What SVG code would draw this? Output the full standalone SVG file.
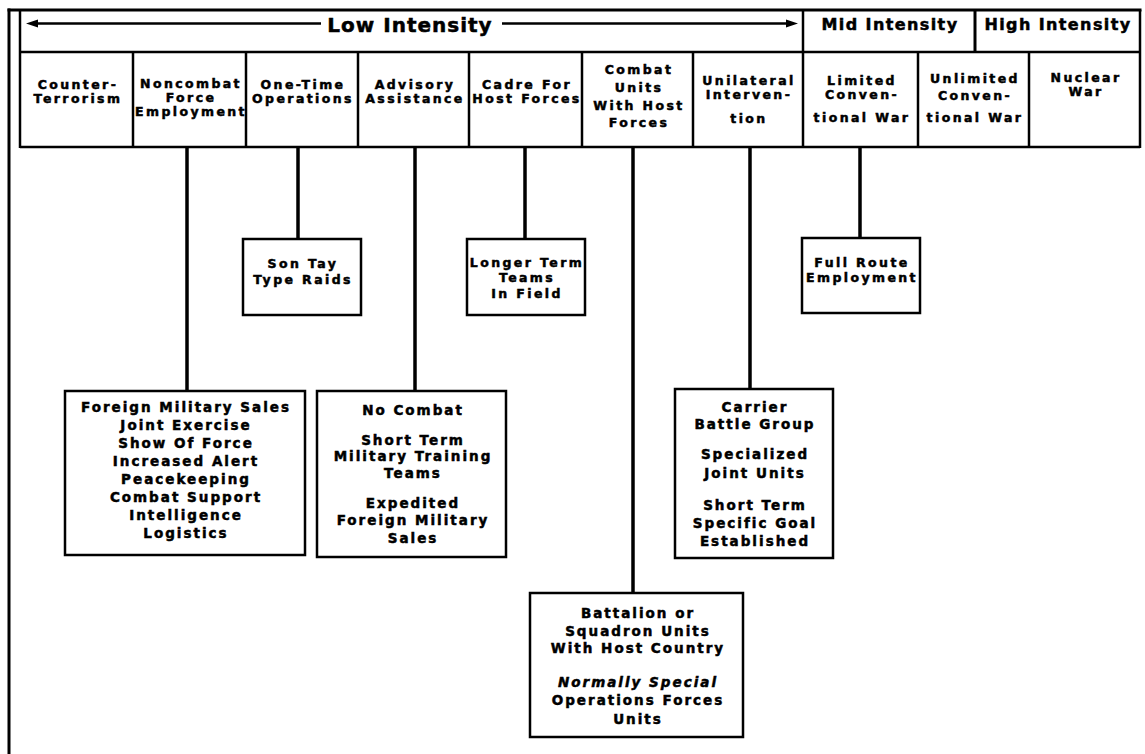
<svg xmlns="http://www.w3.org/2000/svg" width="1145" height="754" viewBox="0 0 1145 754">
<style>
.t{font-family:"DejaVu Sans","Liberation Sans",sans-serif;font-weight:bold;font-size:13.5px;letter-spacing:2px;text-anchor:middle;fill:#000;stroke:#000;stroke-width:0.5}
.c{font-size:12.5px;letter-spacing:2.4px}
.h{font-size:16px;letter-spacing:1.4px}
.big{font-size:20px;letter-spacing:1px}
.it{font-style:italic}
.ln{stroke:#000;stroke-width:2.5;fill:none}
.fr{stroke:#000;stroke-width:3;fill:none}
.box{fill:#fff;stroke:#000;stroke-width:2.5}
.conn{stroke:#000;stroke-width:3.5}
</style>
<rect width="1145" height="754" fill="#fff"/>
<g id="frame">
<line class="fr" x1="9" y1="8.5" x2="9" y2="754"/>
<line class="fr" x1="7.5" y1="10" x2="1141.5" y2="10"/>
<line class="ln" x1="20" y1="10" x2="20" y2="148"/>
<line class="ln" x1="1140" y1="10" x2="1140" y2="148"/>
<line class="ln" x1="20" y1="52" x2="1140" y2="52"/>
<line class="ln" x1="20" y1="147" x2="1140" y2="147"/>
<line class="ln" x1="803" y1="10" x2="803" y2="147"/>
<line class="fr" x1="975" y1="10" x2="975" y2="52"/>
<line class="ln" x1="133" y1="52" x2="133" y2="147"/>
<line class="ln" x1="246" y1="52" x2="246" y2="147"/>
<line class="ln" x1="358" y1="52" x2="358" y2="147"/>
<line class="ln" x1="469" y1="52" x2="469" y2="147"/>
<line class="ln" x1="582" y1="52" x2="582" y2="147"/>
<line class="ln" x1="693" y1="52" x2="693" y2="147"/>
<line class="ln" x1="918" y1="52" x2="918" y2="147"/>
<line class="ln" x1="1029" y1="52" x2="1029" y2="147"/>
</g>
<g id="header">
<line class="ln" x1="34" y1="23.5" x2="321" y2="23.5"/>
<polygon points="26,23.5 38,19.5 38,27.5" fill="#000"/>
<text class="t big" x="410" y="32">Low Intensity</text>
<line class="ln" x1="502" y1="23.5" x2="790" y2="23.5"/>
<polygon points="798,23.5 786,19.5 786,27.5" fill="#000"/>
<text class="t h" x="890" y="30">Mid Intensity</text>
<text class="t h" x="1058" y="30">High Intensity</text>
</g>
<g id="cells">
<text class="t c" x="78" y="89">Counter-</text>
<text class="t c" x="78" y="103">Terrorism</text>
<text class="t c" x="191" y="88">Noncombat</text>
<text class="t c" x="191" y="102">Force</text>
<text class="t c" x="191" y="116">Employment</text>
<text class="t c" x="303" y="89">One-Time</text>
<text class="t c" x="303" y="103">Operations</text>
<text class="t c" x="415" y="89">Advisory</text>
<text class="t c" x="415" y="103">Assistance</text>
<text class="t c" x="527" y="89">Cadre For</text>
<text class="t c" x="527" y="103">Host Forces</text>
<text class="t c" x="639" y="74">Combat</text>
<text class="t c" x="639" y="92">Units</text>
<text class="t c" x="639" y="110">With Host</text>
<text class="t c" x="639" y="127">Forces</text>
<text class="t c" x="749" y="85">Unilateral</text>
<text class="t c" x="749" y="99">Interven-</text>
<text class="t c" x="749" y="123">tion</text>
<text class="t c" x="862" y="85">Limited</text>
<text class="t c" x="862" y="99">Conven-</text>
<text class="t c" x="862" y="122">tional War</text>
<text class="t c" x="975" y="83">Unlimited</text>
<text class="t c" x="975" y="100">Conven-</text>
<text class="t c" x="975" y="122">tional War</text>
<text class="t c" x="1086" y="82">Nuclear</text>
<text class="t c" x="1086" y="96">War</text>
</g>
<g id="connectors">
<line class="conn" x1="187" y1="147" x2="187" y2="391"/>
<line class="conn" x1="298" y1="147" x2="298" y2="239"/>
<line class="conn" x1="415" y1="147" x2="415" y2="391"/>
<line class="conn" x1="525" y1="147" x2="525" y2="239"/>
<line class="conn" x1="633" y1="147" x2="633" y2="593"/>
<line class="conn" x1="750" y1="147" x2="750" y2="389"/>
<line class="conn" x1="860" y1="147" x2="860" y2="238"/>
</g>
<g id="sontay">
<rect class="box" x="243" y="239" width="118" height="76"/>
<text class="t c" x="303" y="268">Son Tay</text>
<text class="t c" x="303" y="284">Type Raids</text>
</g>
<g id="longerterm">
<rect class="box" x="467" y="239" width="118" height="76"/>
<text class="t c" x="527" y="267">Longer Term</text>
<text class="t c" x="527" y="282">Teams</text>
<text class="t c" x="527" y="298">In Field</text>
</g>
<g id="fullroute">
<rect class="box" x="802" y="238" width="118" height="75"/>
<text class="t c" x="862" y="267">Full Route</text>
<text class="t c" x="862" y="282">Employment</text>
</g>
<g id="fms">
<rect class="box" x="65" y="391" width="240" height="164"/>
<text class="t" x="186" y="412">Foreign Military Sales</text>
<text class="t" x="186" y="430">Joint Exercise</text>
<text class="t" x="186" y="448">Show Of Force</text>
<text class="t" x="186" y="466">Increased Alert</text>
<text class="t" x="186" y="484">Peacekeeping</text>
<text class="t" x="186" y="502">Combat Support</text>
<text class="t" x="186" y="520">Intelligence</text>
<text class="t" x="186" y="538">Logistics</text>
</g>
<g id="nocombat">
<rect class="box" x="317" y="391" width="189" height="166"/>
<text class="t" x="413" y="415">No Combat</text>
<text class="t" x="413" y="445">Short Term</text>
<text class="t" x="413" y="461">Military Training</text>
<text class="t" x="413" y="478">Teams</text>
<text class="t" x="413" y="508">Expedited</text>
<text class="t" x="413" y="525">Foreign Military</text>
<text class="t" x="413" y="543">Sales</text>
</g>
<g id="carrier">
<rect class="box" x="675" y="389" width="158" height="169"/>
<text class="t" x="755" y="412">Carrier</text>
<text class="t" x="755" y="429">Battle Group</text>
<text class="t" x="755" y="459">Specialized</text>
<text class="t" x="755" y="478">Joint Units</text>
<text class="t" x="755" y="510">Short Term</text>
<text class="t" x="755" y="528">Specific Goal</text>
<text class="t" x="755" y="546">Established</text>
</g>
<g id="battalion">
<rect class="box" x="530" y="593" width="213" height="144"/>
<text class="t" x="638" y="618">Battalion or</text>
<text class="t" x="638" y="636">Squadron Units</text>
<text class="t" x="638" y="653">With Host Country</text>
<text class="t it" x="638" y="687">Normally Special</text>
<text class="t" x="638" y="705">Operations Forces</text>
<text class="t" x="638" y="724">Units</text>
</g>
</svg>
